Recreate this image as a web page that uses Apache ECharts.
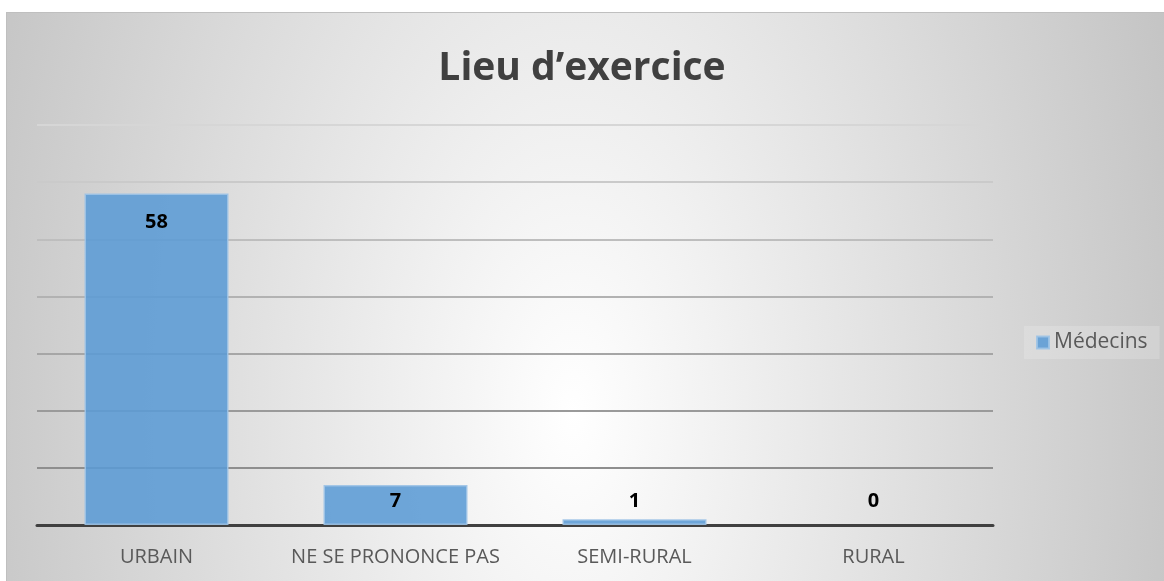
<!DOCTYPE html>
<html>
<head>
<meta charset="utf-8">
<script src="https://cdn.jsdelivr.net/npm/echarts@6/dist/echarts.min.js"></script>
<style>
html,body{margin:0;padding:0;width:1164px;height:581px;overflow:hidden;background:#fff;}
#bg{position:absolute;left:6px;top:12px;width:1170px;height:600px;box-sizing:border-box;border:1px solid #bfbfbf;
background:radial-gradient(ellipse 720px 1300px at 566px 400px,#ffffff 0%,#bcbcbc 100%);}
#chart{position:absolute;left:0;top:0;width:1164px;height:581px;}
</style>
</head>
<body>
<div id="bg"></div>
<div id="chart"></div>
<script>
const titleText = "Lieu d’exercice";
const categories = ["URBAIN", "NE SE PRONONCE PAS", "SEMI-RURAL", "RURAL"];
const seriesName = "Médecins";
const values = [58, 7, 1, 0];
const yMin = 0, yMax = 70, yInterval = 10;

const chart = echarts.init(document.getElementById('chart'), null, {renderer: 'canvas'});
const font = "'Open Sans', 'Noto Sans', sans-serif";

chart.setOption({
  backgroundColor: 'transparent',
  animation: false,
  title: {
    text: titleText,
    left: 'center',
    top: 44,
    textStyle: {fontFamily: font, fontWeight: 'bold', fontSize: 39, color: '#404040'}
  },
  legend: {
    data: [seriesName],
    left: 1024,
    top: 326,
    orient: 'vertical',
    icon: 'rect',
    itemWidth: 12,
    itemHeight: 12,
    padding: [6, 12, 6, 12],
    backgroundColor: 'rgba(255,255,255,0.18)',
    textStyle: {fontFamily: font, fontSize: 21, color: '#595959'}
  },
  grid: {left: 37, right: 171, top: 125, bottom: 56, containLabel: false},
  xAxis: {
    type: 'category',
    data: categories,
    axisLine: {show: true, lineStyle: {color: '#404040', width: 3}},
    axisTick: {show: false},
    axisLabel: {interval: 0, fontFamily: font, fontSize: 20, color: '#595959', margin: 22}
  },
  yAxis: {
    type: 'value',
    min: yMin, max: yMax, interval: yInterval,
    axisLine: {show: false},
    axisTick: {show: false},
    axisLabel: {show: false},
    splitLine: {
      show: true,
      lineStyle: {
        width: 2,
        color: {
          type: 'linear', x: 0, y: 125, x2: 0, y2: 468, global: true,
          colorStops: [{offset: 0, color: '#d6d6d6'}, {offset: 1, color: '#8e8e8e'}]
        }
      }
    }
  },
  series: [{
    name: seriesName,
    type: 'bar',
    barWidth: 144,
    data: values.map(v => ({
      value: v,
      itemStyle: v === 0 ? {borderWidth: 0, color: 'rgba(0,0,0,0)'} : undefined,
      label: v > 20 ? {position: 'insideTop', distance: 19} : {position: 'insideBottom', distance: 14}
    })),
    itemStyle: {color: 'rgba(91,155,213,0.88)', borderColor: 'rgba(157,195,230,0.9)', borderWidth: 1.5},
    label: {show: true, fontFamily: font, fontWeight: 'bold', fontSize: 20, color: '#000'}
  }]
});
</script>
</body>
</html>
